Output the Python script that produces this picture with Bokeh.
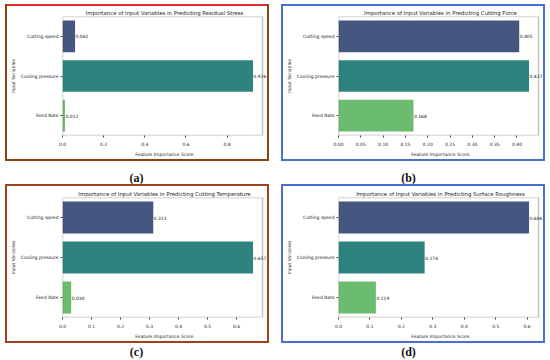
from bokeh.plotting import figure
from bokeh.models import ColumnDataSource, FactorRange, Range1d, FixedTicker, PrintfTickFormatter, BoxAnnotation, Label, LabelSet
from bokeh.layouts import row, column
from bokeh.embed import file_html
from bokeh.resources import INLINE
from bokeh.core.properties import value

variables = ["Cutting speed", "Cooling pressure", "Feed Rate"]
residual_stress = [0.061, 0.926, 0.012]
cutting_force = [0.405, 0.427, 0.168]
cutting_temperature = [0.313, 0.657, 0.030]
surface_roughness = [0.606, 0.274, 0.119]

titles = [
    "Importance of Input Variables in Predicting Residual Stress",
    "Importance of Input Variables in Predicting Cutting Force",
    "Importance of Input Variables in Predicting Cutting Temperature",
    "Importance of Input Variables in Predicting Surface Roughness",
]
ticks_a = [0.0, 0.2, 0.4, 0.6, 0.8]
ticks_b = [0.00, 0.05, 0.10, 0.15, 0.20, 0.25, 0.30, 0.35, 0.40]
ticks_c = [0.0, 0.1, 0.2, 0.3, 0.4, 0.5, 0.6]
ticks_d = [0.0, 0.1, 0.2, 0.3, 0.4, 0.5, 0.6]
tick_formats = ["%.1f", "%.2f", "%.1f", "%.1f"]
panel_labels = ["(a)", "(b)", "(c)", "(d)"]
bar_colors = ["#455681", "#2f837f", "#6bbc6e"]
border_colors = ["#8b4513", "#4a6fd0", "#a0401c", "#4a6fd0"]

FONT = "DejaVu Sans"
PW = 260          # panel interior width
FRAME_W = 203     # matplotlib axes width
EXT = 4           # extra room so value labels are not clipped


def make_panel(vals, title, ticks, fmt, ph, mtop, mbottom, shadow, margin):
    factors = list(reversed(variables))
    src = ColumnDataSource(dict(
        cat=variables, val=vals, color=bar_colors,
        lab=[f"{v:.3f}" for v in vals],
    ))
    xmax = max(vals) * 1.05
    p = figure(width=PW, height=ph, y_range=FactorRange(factors=factors, range_padding=0),
               x_range=Range1d(0, xmax * (FRAME_W + EXT) / FRAME_W),
               output_backend="svg", toolbar_location=None,
               min_border_left=52, min_border_right=PW - 52 - FRAME_W - EXT,
               min_border_top=mtop, min_border_bottom=mbottom)
    p.hbar(y="cat", right="val", left=0, height=0.8, color="color", line_color=None, source=src)
    p.add_layout(LabelSet(x="val", y="cat", text="lab", source=src, x_offset=0.5,
                          text_font=value(FONT), text_font_size="4.5px", text_align="left",
                          text_baseline="middle", text_color="#111111"))
    # axes box (matplotlib spines) covering the data limits
    p.add_layout(BoxAnnotation(left=0, right=xmax, fill_color=None,
                               line_color="#333333", line_width=1.4))
    p.outline_line_color = None
    p.title.text = title
    p.title.align = "center"
    p.title.text_font = FONT
    p.title.text_font_size = "5.4px"
    p.title.text_font_style = "normal"
    p.title.text_color = "#222222"
    p.title.standoff = 1
    p.title.offset = -EXT / 2
    p.xgrid.visible = False
    p.ygrid.visible = False
    for ax in (p.xaxis[0], p.yaxis[0]):
        ax.axis_line_color = None
        ax.major_tick_in = 0
        ax.major_tick_out = 2
        ax.major_tick_line_color = "#444444"
        ax.minor_tick_line_color = None
        ax.major_label_text_font = FONT
        ax.major_label_text_font_size = "4.5px"
        ax.major_label_text_color = "#222222"
        ax.major_label_standoff = 2
        ax.axis_label_text_font = FONT
        ax.axis_label_text_font_size = "4.5px"
        ax.axis_label_text_font_style = "normal"
        ax.axis_label_text_color = "#222222"
        ax.axis_label_standoff = 2
    p.xaxis.major_label_standoff = 4
    p.xaxis.axis_label_standoff = 3
    p.xaxis.ticker = FixedTicker(ticks=ticks)
    p.xaxis.formatter = PrintfTickFormatter(format=fmt)
    p.xaxis.axis_label = "Feature Importance Score"
    p.yaxis.axis_label = "Input Variables"
    p.yaxis.major_label_orientation = "horizontal"
    p.styles = {"box-shadow": shadow}
    p.margin = margin
    return p


def label_row(h, texts, ypos):
    q = figure(width=550, height=h, x_range=Range1d(0, 550), y_range=Range1d(0, h),
               output_backend="svg", toolbar_location=None,
               min_border=0, min_border_left=0, min_border_right=0, min_border_top=0, min_border_bottom=0)
    q.axis.visible = False
    q.grid.visible = False
    q.outline_line_color = None
    q.background_fill_color = None
    q.border_fill_color = None
    for t, x in zip(texts, (136, 408)):
        q.add_layout(Label(x=x, y=ypos, text=t, text_font="Liberation Serif", text_font_size="12px",
                           text_font_style="bold", text_align="center", text_baseline="middle",
                           text_color="#111111"))
    return q


pa = make_panel(residual_stress, titles[0], ticks_a, tick_formats[0], 153, 10, 21,
                f"0 -2px 0 0 #e3262b, 0 0 0 2px {border_colors[0]}", (6, 0, 0, 7))
pb = make_panel(cutting_force, titles[1], ticks_b, tick_formats[1], 153, 10, 21,
                f"0 0 0 2px {border_colors[1]}", (6, 0, 0, 16))
pc = make_panel(cutting_temperature, titles[2], ticks_c, tick_formats[2], 155, 11, 23,
                f"0 0 0 2px {border_colors[2]}", (0, 0, 0, 7))
pd = make_panel(surface_roughness, titles[3], ticks_d, tick_formats[3], 155, 11, 23,
                f"0 0 0 2px {border_colors[3]}", (0, 0, 0, 16))

lab1 = label_row(27, panel_labels[0:2], 8.5)
lab2 = label_row(19, panel_labels[2:4], 9)

lay = column(row(pa, pb), lab1, row(pc, pd), lab2)
open("out.html", "w").write(file_html(lay, INLINE))
